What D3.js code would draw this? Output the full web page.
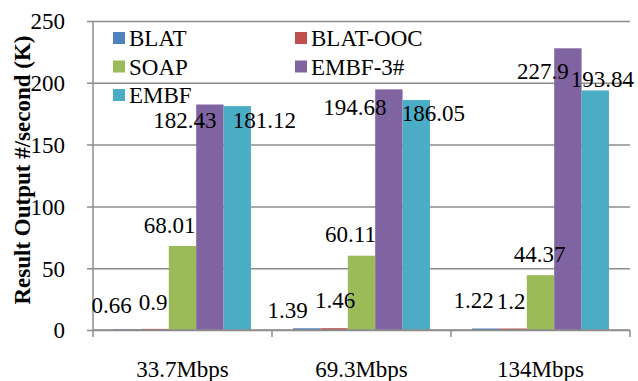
<!DOCTYPE html>
<html>
<head>
<meta charset="utf-8">
<script src="https://cdn.jsdelivr.net/npm/d3@7"></script>
<style>
  html, body { margin: 0; padding: 0; background: #fff; }
  svg { display: block; }
</style>
</head>
<body>
<svg id="chart" width="638" height="381"></svg>
<script>
// Throughput per link speed, one bar per tool
const categories = ["33.7Mbps", "69.3Mbps", "134Mbps"];
const seriesNames = ["BLAT", "BLAT-OOC", "SOAP", "EMBF-3#", "EMBF"];
const blat    = [0.66, 1.39, 1.22];
const blatOoc = [0.9, 1.46, 1.2];
const soap    = [68.01, 60.11, 44.37];
const embf3   = [182.43, 194.68, 227.9];
const embf    = [181.12, 186.05, 193.84];
const yTicks  = [0, 50, 100, 150, 200, 250];
const yTitle  = "Result Output #/second (K)";

const seriesValues = [blat, blatOoc, soap, embf3, embf];
const colors = ["#4f81bd", "#c0504d", "#9bbb59", "#8064a2", "#4bacc6"];
const serif = "Liberation Serif, Times New Roman, serif";
const fs = 23;

// hand-placed value labels: [dx, dy] from the top-centre of each bar
const labelNudge = [
  [[-16, -16], [-19, -10], [-12, -20]],
  [[-2, -19], [1, -20], [-2, -20]],
  [[-13, -13], [-11, -14], [-1, -13]],
  [[-25, 23], [-34, 26], [-25, 31]],
  [[27, 22], [17, 21], [7, -3]]
];

const rows = [];
seriesNames.forEach((s, si) => {
  categories.forEach((c, ci) => {
    rows.push({ series: s, si, category: c, ci, value: seriesValues[si][ci] });
  });
});

const svg = d3.select("#chart");
const plot = { left: 93, right: 630, top: 21, bottom: 330 };

const x0 = d3.scaleBand()
  .domain(categories)
  .range([plot.left, plot.right])
  .paddingInner(0.235)
  .paddingOuter(0.1175);

const x1 = d3.scaleBand()
  .domain(seriesNames)
  .range([0, x0.bandwidth()]);

const y = d3.scaleLinear()
  .domain([0, 250])
  .range([plot.bottom, plot.top]);

const gridColor = "#8c8c8c";

// horizontal gridlines with short ticks left of the axis
const yAxis = d3.axisLeft(y)
  .tickValues(yTicks)
  .tickSize(-(plot.right - plot.left))
  .tickSizeOuter(0)
  .tickPadding(28);

const gy = svg.append("g")
  .attr("transform", `translate(${plot.left},0)`)
  .call(yAxis)
  .attr("font-family", serif)
  .attr("font-size", fs);
gy.select(".domain").remove();
gy.selectAll(".tick line")
  .attr("x1", -6)
  .attr("stroke", gridColor)
  .attr("stroke-width", 1.5);
gy.selectAll(".tick text")
  .attr("dy", "0.34em")
  .attr("fill", "#000");

// vertical axis line
svg.append("line")
  .attr("x1", plot.left).attr("x2", plot.left)
  .attr("y1", y(250)).attr("y2", plot.bottom)
  .attr("stroke", gridColor).attr("stroke-width", 1.5);

// bars
svg.append("g")
  .selectAll("rect")
  .data(rows)
  .join("rect")
  .attr("x", d => x0(d.category) + x1(d.series))
  .attr("y", d => y(d.value))
  .attr("width", x1.bandwidth())
  .attr("height", d => y(0) - y(d.value))
  .attr("fill", d => colors[d.si]);

// category axis with boundary ticks
const boundaries = categories.map(c => x0(c) - x0.step() * x0.paddingOuter())
  .concat([plot.right]);
const gx = svg.append("g");
gx.append("line")
  .attr("x1", plot.left).attr("x2", plot.right)
  .attr("y1", plot.bottom).attr("y2", plot.bottom)
  .attr("stroke", gridColor).attr("stroke-width", 1.5);
gx.selectAll("line.tk")
  .data(boundaries)
  .join("line")
  .attr("class", "tk")
  .attr("x1", d => d).attr("x2", d => d)
  .attr("y1", plot.bottom).attr("y2", plot.bottom + 7)
  .attr("stroke", gridColor).attr("stroke-width", 1.5);
gx.selectAll("text")
  .data(categories)
  .join("text")
  .attr("x", d => x0(d) + x0.bandwidth() / 2)
  .attr("y", 377)
  .attr("text-anchor", "middle")
  .attr("font-family", serif)
  .attr("font-size", fs)
  .text(d => d);

// value labels
svg.append("g")
  .selectAll("text")
  .data(rows)
  .join("text")
  .attr("x", d => x0(d.category) + x1(d.series) + x1.bandwidth() / 2 + labelNudge[d.si][d.ci][0])
  .attr("y", d => y(d.value) + labelNudge[d.si][d.ci][1])
  .attr("text-anchor", "middle")
  .attr("font-family", serif)
  .attr("font-size", fs)
  .text(d => String(d.value));

// legend, two columns inside the plot
const legend = svg.append("g")
  .selectAll("g")
  .data(seriesNames)
  .join("g")
  .attr("transform", (d, i) => `translate(${i % 2 === 0 ? 113 : 295},${38 + Math.floor(i / 2) * 28.5})`);
legend.append("rect")
  .attr("x", 0).attr("y", -6)
  .attr("width", 12).attr("height", 12)
  .attr("fill", (d, i) => colors[i]);
legend.append("text")
  .attr("x", 16)
  .attr("y", 0)
  .attr("dy", "0.35em")
  .attr("font-family", serif)
  .attr("font-size", fs)
  .text(d => d);

// y-axis title
svg.append("text")
  .attr("transform", "translate(30,170) rotate(-90)")
  .attr("text-anchor", "middle")
  .attr("font-family", serif)
  .attr("font-size", fs)
  .attr("font-weight", "bold")
  .text(yTitle);
</script>
</body>
</html>
